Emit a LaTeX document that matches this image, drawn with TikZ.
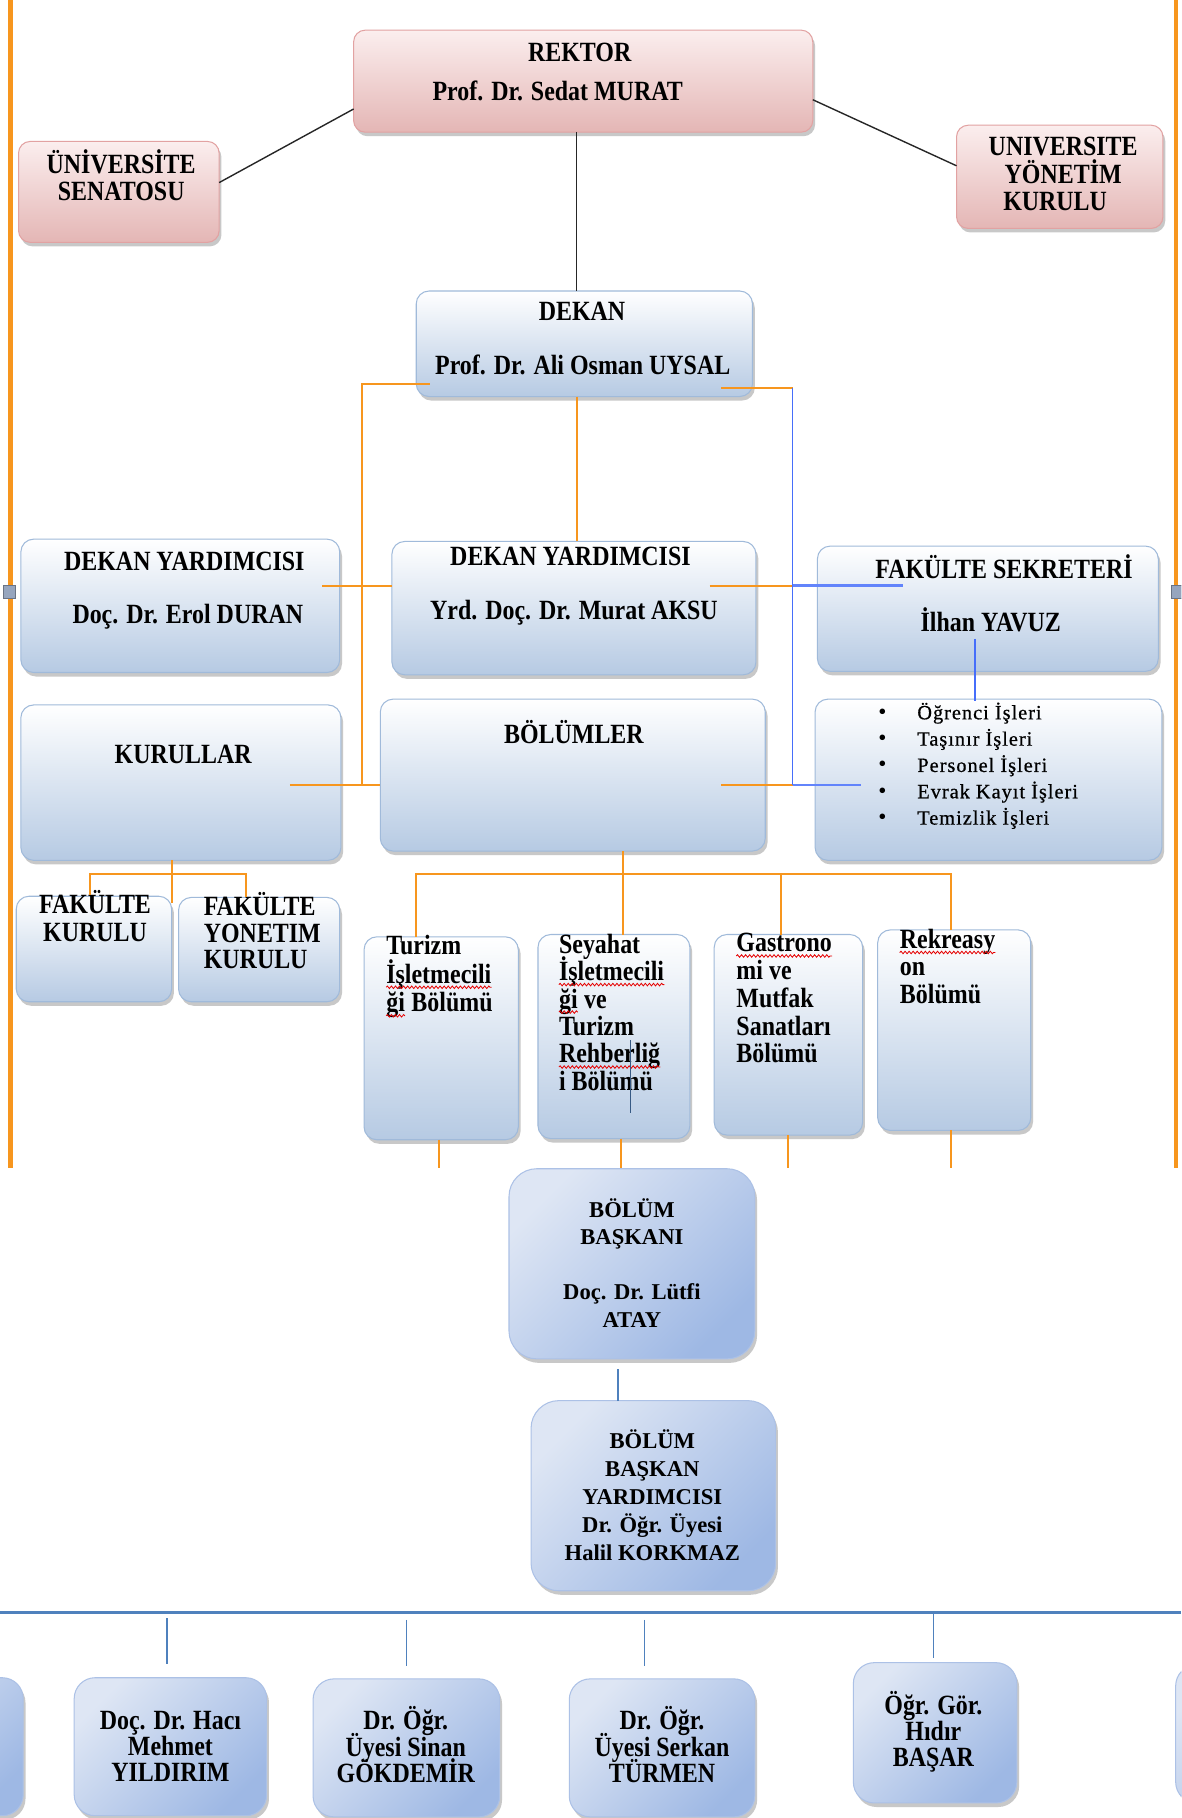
\documentclass[tikz,border=0pt]{standalone}
\usepackage{fontspec}
\setmainfont{Liberation Serif}
\newfontfamily\condfont[FakeStretch=0.86]{Liberation Serif}
\newfontfamily\listfont[LetterSpace=5,FakeBold=0.6]{Liberation Serif}
\usetikzlibrary{shadows,calc,decorations.pathmorphing}
\definecolor{orng}{RGB}{247,150,30}
\definecolor{pinktop}{RGB}{251,238,238}
\definecolor{pinkbot}{RGB}{228,182,181}
\definecolor{pinkline}{RGB}{226,162,162}
\definecolor{bluebot}{RGB}{182,202,227}
\definecolor{blueline}{RGB}{160,186,218}
\definecolor{diagtop}{RGB}{222,230,244}
\definecolor{diagbot}{RGB}{158,184,228}
\definecolor{diagline}{RGB}{172,193,230}
\definecolor{conblue}{RGB}{79,129,189}
\definecolor{brblue}{RGB}{70,110,250}
\definecolor{handle}{RGB}{150,165,190}
\newcommand\mkbox[6]{%
  \node[#1, minimum width={#5pt-(#3pt)}, minimum height={#6pt-(#4pt)}] (#2) at ({(#3+#5)/2},{(#4+#6)/2}) {};}
\newcommand\tlines[6]{%
  \foreach \lt [count=\li from 0] in {#6} {\node[#1] (#2-\li) at (#3,{#4+\li*#5}) {\lt};}}
\newcommand\wavyunder[1]{\draw[wv] ($(#1.base west)+(0,3.5)$) -- ($(#1.base east)+(0,3.5)$);}
\tikzset{
  boxbase/.style={inner sep=0pt, outer sep=0pt, line width=0.9pt,
    drop shadow={shadow xshift=2pt, shadow yshift=-3.5pt, opacity=0.3, fill=black!70}},
  pinkbox/.style={boxbase, rounded corners=10pt, draw=pinkline, top color=pinktop, bottom color=pinkbot},
  bluebox/.style={boxbase, rounded corners=11pt, draw=blueline, top color=white, bottom color=bluebot},
  diagbox/.style={boxbase, rounded corners=24pt, draw=diagline, top color=diagtop, bottom color=diagbot, shading angle=45},
  diagsm/.style={diagbox, rounded corners=18pt},
  ut/.style={inner sep=0pt, anchor=base, font=\condfont\bfseries\fontsize{24}{24}\selectfont},
  utl/.style={ut, anchor=base west},
  lt/.style={inner sep=0pt, anchor=base, font=\bfseries\fontsize{19.5}{24}\selectfont},
  lst/.style={inner sep=0pt, anchor=base west, font=\listfont\fontsize{17.5}{23}\selectfont},
  bul/.style={inner sep=0pt, anchor=base, font=\fontsize{20}{23}\selectfont},
  blk/.style={draw=black!85, line width=1.2pt},
  org/.style={draw=orng, line width=1.7pt},
  blu/.style={draw=brblue, line width=1.1pt},
  bluthick/.style={draw=brblue!85!white, line width=2.2pt},
  cblu/.style={draw=conblue, line width=1.1pt},
  wv/.style={draw=red!90!black, line width=0.7pt, decorate, decoration={snake, amplitude=1.1pt, segment length=3.5pt}},
}
\begin{document}
\begin{tikzpicture}[x=1pt,y=-1pt]
\useasboundingbox (0,0) rectangle (1019,1568);
\clip (0,0) rectangle (1019,1568);
\fill[white] (0,0) rectangle (1019,1568);

% page borders
\draw[orng, line width=3.6pt] (9,0) -- (9,1007);
\draw[orng, line width=3.6pt] (1014,0) -- (1014,1007);

% boxes
\mkbox{pinkbox}{rektor}{305}{26}{701}{114}
\mkbox{pinkbox}{senato}{16}{122}{189}{209}
\mkbox{pinkbox}{yonetim}{825}{108}{1003}{197}
\mkbox{bluebox}{dekan}{359}{251}{649}{342}
\mkbox{bluebox}{dy1}{18}{465}{293}{580}
\mkbox{bluebox}{dy2}{338}{467}{652}{582}
\mkbox{bluebox}{fsek}{705}{471}{999}{579}
\mkbox{bluebox}{kurul}{18}{608}{294}{742}
\mkbox{bluebox}{bolum}{328}{603}{660}{734}
\mkbox{bluebox}{isler}{703}{603}{1002}{742}
\mkbox{bluebox}{fk}{14}{773}{148}{864}
\mkbox{bluebox}{fyk}{154}{774}{293}{864}
\mkbox{bluebox}{d1}{314}{808}{447}{983}
\mkbox{bluebox}{d2}{464}{806}{595}{982}
\mkbox{bluebox}{d3}{616}{806}{744}{979}
\mkbox{bluebox}{d4}{757}{802}{889}{975}
\mkbox{diagbox}{bb}{439}{1008}{651}{1172}
\mkbox{diagbox}{bby}{458}{1208}{669}{1372}
\mkbox{diagsm}{m0}{-150}{1447}{20}{1566}
\mkbox{diagsm}{m1}{64}{1447}{230}{1566}
\mkbox{diagsm}{m2}{270}{1448}{431}{1567}
\mkbox{diagsm}{m3}{491}{1448}{651}{1567}
\mkbox{diagsm}{m4}{736}{1434}{877}{1555}
\mkbox{diagsm}{m5}{1014}{1436}{1180}{1555}

% handles
\fill[handle, draw=handle!70!black, line width=0.5pt] (3,505) rectangle (13,516);
\fill[handle, draw=handle!70!black, line width=0.5pt] (1010,505) rectangle (1020,516);

% texts
\tlines{ut}{rektor-a}{500}{53}{0}{REKTOR}
\tlines{ut}{rektor-b}{481}{87}{0}{Prof. Dr. Sedat MURAT}
\tlines{ut}{senato-t}{104.5}{149.6}{23}{ÜNİVERSİTE,SENATOSU}
\tlines{ut}{yonetim-a}{917}{134.3}{24}{UNIVERSITE,YÖNETİM}
\tlines{ut}{yonetim-b}{910}{181.2}{0}{KURULU}
\tlines{ut}{dekan-a}{502}{276.7}{0}{DEKAN}
\tlines{ut}{dekan-b}{502.6}{323}{0}{Prof. Dr. Ali Osman UYSAL}
\tlines{ut}{dy1-a}{159}{491.8}{0}{DEKAN YARDIMCISI}
\tlines{ut}{dy1-b}{162}{537.8}{0}{Doç. Dr. Erol DURAN}
\tlines{ut}{dy2-a}{492}{488}{0}{DEKAN YARDIMCISI}
\tlines{ut}{dy2-b}{495}{534}{0}{Yrd. Doç. Dr. Murat AKSU}
\tlines{ut}{fsek-a}{866}{499}{0}{FAKÜLTE SEKRETERİ}
\tlines{ut}{fsek-b}{854.5}{545}{0}{İlhan YAVUZ}
\tlines{ut}{kurul-t}{158}{658.6}{0}{KURULLAR}
\tlines{ut}{bolum-t}{495}{641.4}{0}{BÖLÜMLER}
\tlines{bul}{isler-b}{761}{620.4}{22.7}{•,•,•,•,•}
\tlines{lst}{isler-t}{791}{620.4}{22.7}{Öğrenci İşleri,Taşınır İşleri,Personel İşleri,Evrak Kayıt İşleri,Temizlik İşleri}
\tlines{ut}{fk-t}{82}{788}{23.6}{FAKÜLTE,KURULU}
\tlines{utl}{fyk-t}{175.6}{789.5}{23}{FAKÜLTE,YONETIM,KURULU}
\tlines{utl}{d1-t}{333}{823.4}{24.6}{Turizm,İşletmecili}
\node[utl] (d1-w) at (333,872.6) {ği};
\node[utl] (d1-r) at ($(d1-w.base east)+(5.2,0)$) {Bölümü};
\tlines{utl}{d2-t}{482}{822}{23.7}{Seyahat,İşletmecili,{},Turizm,Rehberliğ,i Bölümü}
\node[utl] (d2-w) at (482,869.4) {ği};
\node[utl] (d2-r) at ($(d2-w.base east)+(5.2,0)$) {ve};
\tlines{utl}{d3-t}{635}{821}{23.9}{Gastrono,mi ve,Mutfak,Sanatları,Bölümü}
\tlines{utl}{d4-t}{776}{818}{23.7}{Rekreasy,on,Bölümü}
\wavyunder{d1-t-1}
\wavyunder{d1-w}
\wavyunder{d2-t-1}
\wavyunder{d2-w}
\wavyunder{d2-t-4}
\wavyunder{d3-t-0}
\wavyunder{d4-t-0}
\tlines{lt}{bb-a}{545}{1049.8}{23.8}{BÖLÜM,BAŞKANI}
\tlines{lt}{bb-b}{545}{1120.8}{23.9}{Doç. Dr. Lütfi,ATAY}
\tlines{lt}{bby-t}{562.6}{1249.6}{24}{BÖLÜM,BAŞKAN,YARDIMCISI,Dr. Öğr. Üyesi,Halil KORKMAZ}
\tlines{ut}{m1-t}{147}{1491.3}{22.6}{Doç. Dr. Hacı,Mehmet,YILDIRIM}
\tlines{ut}{m2-t}{350}{1492}{22.6}{Dr. Öğr.,Üyesi Sinan,GÖKDEMİR}
\tlines{ut}{m3-t}{571}{1492}{22.6}{Dr. Öğr.,Üyesi Serkan,TÜRMEN}
\tlines{ut}{m4-t}{805}{1478.5}{22.7}{Öğr. Gör.,Hıdır,BAŞAR}

% black connectors
\draw[blk] ($(rektor.south west)+(0,-20)$) -- ($(senato.east)+(0,-8)$);
\draw[blk] ($(rektor.north east)+(0,60)$) -- ($(yonetim.north west)+(0,35)$);
\coordinate (rk) at ($(rektor.south)+(-5.6,0)$);
\draw[blk] (rk) -- (rk |- dekan.north);

% orange connectors (upper)
\coordinate (sp) at ($(dy1.east)!0.42!(dy2.west)$);
\coordinate (sr) at ($(dy2.east)!0.6!(fsek.west)$);
\coordinate (a0) at ($(dekan.south west)+(11.6,-10.4)$);
\coordinate (a1) at ($(dy1.east)+(-15,-17.5)$);
\coordinate (a2) at ($(kurul.east)+(-44,2)$);
\draw[org] (a0) -- (a0 -| sp) -- (a2 -| sp);
\draw[org] (a1) -- (a1 -| dy2.west);
\draw[org] (a2) -- (a2 -| bolum.west);
\draw[org] (rk |- dekan.south) -- (rk |- dy2.north);
\coordinate (b0) at ($(dekan.south east)+(-27,-7)$);
\coordinate (b1) at ($(dy2.east)+(-40,-19.5)$);
\coordinate (b2) at ($(bolum.east)+(-38,8.5)$);
\draw[org] (b0) -- (b0 -| sr);
\draw[org] (b1) -- (b1 -| sr);
\draw[org] (b2) -- (b2 -| sr);
\draw[blu] (b0 -| sr) -- (b2 -| sr);
\draw[bluthick] (b1 -| sr) -- ($(fsek.west |- b1)+(74,0)$);
\draw[bluthick] (b2 -| sr) -- ($(isler.west |- b2)+(40,0)$);
\coordinate (c0) at ($(fsek.south)+(-11,-28)$);
\draw[blu] (c0) -- ($(c0 |- isler.north)+(0,2)$);

% kurullar
\coordinate (k0) at (fk.east |- kurul.south);
\draw[org] (k0) -- ($(k0)+(0,37)$);
\coordinate (k1) at ($(fk.north)+(-3,-1)$);
\coordinate (k2) at ($(fk.north)+(-3,-19)$);
\coordinate (k3) at ($(fyk.north)+(-11.5,0)$);
\draw[org] (k1) -- (k2) -- (k2 -| k3) -- (k3);

% bolumler
\coordinate (e0) at ($(bolum.south)+(43.5,0)$);
\draw[org] (e0) -- (e0 |- d2.north);
\coordinate (e1) at ($(d1.north)+(-22,0)$);
\coordinate (e3) at ($(d3.north)+(-6,0)$);
\coordinate (e4) at ($(d4.north)+(-3,0)$);
\draw[org] (e1) -- (e1 |- k2) -- (e4 |- k2) -- (e4);
\draw[org] (e3 |- k2) -- (e3);
\draw[org] ($(d1.south)+(-1.5,0)$) -- ++(0,24);
\draw[org] ($(d2.south)+(6,0)$) -- ++(0,25);
\draw[org] ($(d3.south)+(0,0)$) -- ++(0,28);
\draw[org] ($(d4.south)+(-2.5,0)$) -- ++(0,32);
\draw[draw=conblue!70!black, line width=0.8pt] ($(d2.north)+(14,91)$) -- ++(0,63);

% lower part
\coordinate (c1) at ($(bb.south)+(-12,9)$);
\draw[cblu] (c1) -- (c1 |- bby.north);
\coordinate (busL) at (0,1390.6);
\coordinate (busR) at (1019,1390.6);
\draw[cblu, line width=2.2pt] (busL) -- (busR);
\draw[cblu] ($(m1.north)+(-3,-51.5)$) -- ++(0,39.5);
\draw[cblu] ($(m2.north)+(0,-51)$) -- ++(0,40);
\draw[cblu] ($(m3.north)+(-15,-51)$) -- ++(0,40);
\draw[cblu] ($(m4.north)+(-1.5,-43.4)$) -- ++(0,39.4);
\end{tikzpicture}
\end{document}
